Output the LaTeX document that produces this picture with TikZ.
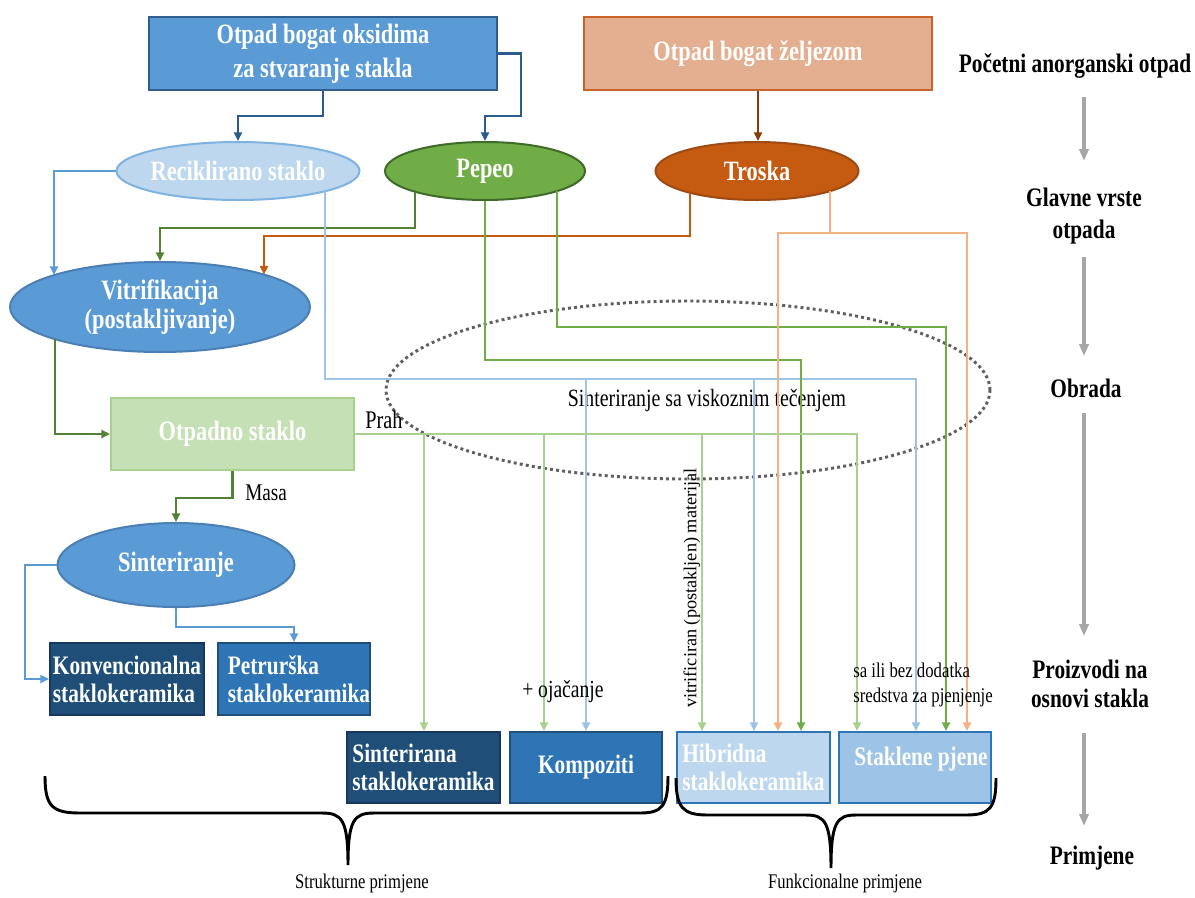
\documentclass[tikz,border=0pt]{standalone}
\usepackage{fontspec}
\setmainfont[FakeStretch=0.8]{Liberation Serif}
\newfontfamily\vfont{Liberation Serif}
\usetikzlibrary{shapes.geometric,arrows.meta,calc}
\definecolor{cA}{HTML}{5B9BD5}
\definecolor{cAb}{HTML}{2F5E8E}
\definecolor{cVb}{HTML}{4A7FB5}
\definecolor{cDk}{HTML}{2B5C8F}
\definecolor{cRec}{HTML}{BDD7EE}
\definecolor{cRecb}{HTML}{7EB2E0}
\definecolor{cPep}{HTML}{70AD47}
\definecolor{cPepb}{HTML}{3E6B27}
\definecolor{cTro}{HTML}{C55A11}
\definecolor{cTrob}{HTML}{9E4A12}
\definecolor{cB}{HTML}{E4AF90}
\definecolor{cBb}{HTML}{C8642A}
\definecolor{cBrown}{HTML}{843C0C}
\definecolor{cDg}{HTML}{548235}
\definecolor{cLg}{HTML}{A9D18E}
\definecolor{cOt}{HTML}{C5E0B4}
\definecolor{cLb}{HTML}{9DC3E6}
\definecolor{cLo}{HTML}{F4B183}
\definecolor{cNavy}{HTML}{1F4E79}
\definecolor{cNavyb}{HTML}{17375E}
\definecolor{cMid}{HTML}{2E75B6}
\definecolor{cGray}{HTML}{A6A6A6}
\definecolor{cDot}{HTML}{5F5F5F}
\begin{document}
\begin{tikzpicture}[x=0.75pt,y=-0.75pt,
  ln/.style={line width=2.2pt},
  arr/.style={-{Triangle[length=6.5pt,width=6pt]}},
  grayarr/.style={line width=2.4pt,draw=cGray,-{Triangle[length=9pt,width=7pt]}},
  ntxt/.style={text=white,font=\fontsize{21}{22}\selectfont\bfseries,align=center},
  btxt/.style={text=white,font=\fontsize{20}{21}\selectfont\bfseries,align=left},
  lab/.style={text=black,font=\fontsize{20}{24}\selectfont\bfseries,align=center,inner sep=0pt},
  ell/.style={shape=ellipse,inner sep=0pt,line width=1.5pt},
  box/.style={rectangle,inner sep=0pt,line width=1.5pt},
  brace/.style={line width=2.2pt,draw=black}
]
\useasboundingbox (0,0) rectangle (1195,897);
\fill[white] (0,0) rectangle (1195,897);

% dotted ellipse
\draw[cDot,line width=2.2pt,dash pattern=on 2.2pt off 2.4pt] (688,390) ellipse [x radius=226.5pt, y radius=66.75pt];
\node[font=\fontsize{18.6}{20}\selectfont,inner sep=0pt] (sv) at (707,401) {Sinteriranje sa viskoznim tečenjem};

% top boxes
\node[box,fill=cA,draw=cAb,minimum width=261pt,minimum height=54.75pt,
  text=white,font=\fontsize{21}{25.5}\selectfont\bfseries,align=center] (A) at (323,53.5) {Otpad bogat oksidima\\za stvaranje stakla};
\node[box,fill=cB,draw=cBb,minimum width=261pt,minimum height=54.75pt,
  text=white,font=\fontsize{21}{25}\selectfont\bfseries] (B) at (758,53.5) {Otpad bogat željezom};

% ellipses
\node[ell,fill=cRec,draw=cRecb,minimum width=182.25pt,minimum height=43.5pt] (R) at (238,171) {};
\node[ntxt,inner sep=0pt] (Rt) at (R.center) {Reciklirano staklo};
\node[ell,fill=cPep,draw=cPepb,minimum width=150pt,minimum height=43.5pt,ntxt] (P) at (485,171) {Pepeo};
\node[ell,fill=cTro,draw=cTrob,minimum width=152.25pt,minimum height=43.5pt,ntxt] (T) at (757,171) {Troska};
\node[ell,fill=cA,draw=cVb,minimum width=225pt,minimum height=67.5pt,ntxt] (V) at (160,307) {Vitrifikacija\\(postakljivanje)};
\node[box,fill=cOt,draw=cLg,minimum width=182.25pt,minimum height=54pt,ntxt] (O) at (232.5,434) {Otpadno staklo};
\node[ell,fill=cA,draw=cVb,minimum width=177.75pt,minimum height=63pt,ntxt] (S) at (176,565) {Sinteriranje};

% product boxes
\node[box,fill=cNavy,draw=cNavyb,minimum width=115.5pt,minimum height=54pt,btxt] (K) at (127,679) {Konvencionalna\\staklokeramika};
\node[box,fill=cMid,draw=cNavy,minimum width=114pt,minimum height=54pt] (Pt) at (294,679) {};
\node[btxt,inner sep=0pt] (Ptt) at ($(Pt.center)+(5,0)$) {Petrurška\\staklokeramika};
\node[box,fill=cNavy,draw=cNavyb,minimum width=114.75pt,minimum height=53.25pt,btxt] (Si) at (423.5,767.5) {Sinterirana\\staklokeramika};
\node[box,fill=cMid,draw=cNavy,minimum width=114pt,minimum height=53.25pt,btxt] (Ko) at (586,767.5) {Kompoziti};
\node[box,fill=cRec,draw=cMid,minimum width=114.75pt,minimum height=53.25pt,btxt] (H) at (753.5,767.5) {Hibridna\\staklokeramika};
\node[box,fill=cLb,draw=cMid,minimum width=114pt,minimum height=53.25pt] (Sp) at (915,767.5) {};
\node[btxt,inner sep=0pt] (Spt) at (921,759) {Staklene pjene};

% right column labels
\node[lab] (L1) at (1075,66) {Početni anorganski otpad};
\node[lab] (L2) at (1084,216) {Glavne vrste\\otpada};
\node[lab] (L3) at (1086,388) {Obrada};
\node[lab,font=\fontsize{20}{21.5}\selectfont\bfseries] (L4) at (1090,684) {Proizvodi na\\osnovi stakla};
\node[lab] (L5) at (1092,858) {Primjene};
\coordinate (g1) at (1084,97);  \coordinate (g2) at (1084,161);
\coordinate (g3) at (1084,257); \coordinate (g4) at (1084,356);
\coordinate (g5) at (1084,413); \coordinate (g6) at (1084,636);
\coordinate (g7) at (1084,733); \coordinate (g8) at (1084,826);
\draw[grayarr] (g1) -- (g2);
\draw[grayarr] (g3) -- (g4);
\draw[grayarr] (g5) -- (g6);
\draw[grayarr] (g7) -- (g8);

% connectors from top
\draw[ln,cDk,arr] (A.south -| 323,0) -- (323,116) -| (R.north);
\draw[ln,cDk,arr] (A.east) -- (521,53.5) |- (485,116) -- (P.north);
\draw[ln,cBrown,arr] (B.south) -- (T.north -| B.south);

% into vitrifikacija
\draw[ln,cA,arr] (R.west) -- (54,171) -- ($(V.center)+(-106,-32)$);
\draw[ln,cDg,arr] ($(P.center)+(-70,21)$) -- (415,228) -| (V.north);
\draw[ln,cTro,arr] ($(T.center)+(-67,22)$) -- (690,236) -| ($(V.center)+(104,-32.4)$);

% vitrifikacija -> otpadno -> sinteriranje
\draw[ln,cDg,arr] ($(V.center)+(-105,32)$) |- (O.west);
\draw[ln,cDg,arr] (O.south) -- ($(O.south)+(0,27)$) -| (S.north);
\draw[ln,cA,arr] (S.west) -- (25,565) |- (K.west);
\draw[ln,cA,arr] (S.south) -- (176,627) -| (Pt.north);

% light blue from reciklirano
\draw[ln,cLb,arr] ($(R.center)+(87,20)$) |- (916,379) -- (Sp.north -| 916,0);
\draw[ln,cLb,arr] (586,379) -- (Ko.north -| 586,0);
\draw[ln,cLb,arr] (754,379) -- (H.north -| 754,0);

% green from pepeo
\draw[ln,cPep,arr] (P.south) |- (801,360) -- (H.north -| 801,0);
\draw[ln,cPep,arr] ($(P.center)+(72,20)$) |- (946,327) -- (Sp.north -| 946,0);

% light orange from troska
\draw[ln,cLo,arr] ($(T.center)+(73,20)$) -- (830,233) -| (Sp.north -| 967,0);
\draw[ln,cLo,arr] (830,233) -| (H.north -| 778,0);

% light green from otpadno staklo (prah)
\draw[ln,cLg,arr] (O.east) -| (Sp.north -| 857,0);
\draw[ln,cLg,arr] (424,434) -- (Si.north -| 424,0);
\draw[ln,cLg,arr] (544,434) -- (Ko.north -| 544,0);
\draw[ln,cLg,arr] (702,434) -- (H.north -| 702,0);

% small labels
\node[font=\fontsize{19}{20}\selectfont,anchor=west,inner sep=0pt] (prah) at (365,420) {Prah};
\node[font=\fontsize{18}{20}\selectfont,anchor=west,inner sep=0pt] (masa) at (245,493) {Masa};
\node[font=\fontsize{18.4}{20}\selectfont,anchor=west,inner sep=0pt] (oj) at (522,692) {+ ojačanje};
\node[font=\fontsize{15.7}{18.75}\selectfont,anchor=west,align=left,inner sep=0pt] (sab) at (853,685) {sa ili bez dodatka\\sredstva za pjenjenje};
\node[font=\fontsize{13.7}{15}\vfont,rotate=90,inner sep=0pt] (vit) at (692,588) {vitrificiran (postakljen) materijal};

% braces
\draw[brace] (45,776) .. controls (45,806) and (52,813) .. (80,813) -- (322,813)
  .. controls (342,813) and (348,820) .. (348,865)
  .. controls (348,820) and (354,813) .. (374,813) -- (640,813)
  .. controls (662,813) and (668,806) .. (668,776);
\draw[brace] (676,778) .. controls (676,808) and (683,815) .. (708,815) -- (806,815)
  .. controls (825,815) and (831,822) .. (831,868)
  .. controls (831,822) and (837,815) .. (856,815) -- (966,815)
  .. controls (990,815) and (996,808) .. (996,778);
\node[font=\fontsize{15.6}{18}\selectfont,inner sep=0pt] (str) at (362,883) {Strukturne primjene};
\node[font=\fontsize{15.6}{18}\selectfont,inner sep=0pt] (fun) at (845,883) {Funkcionalne primjene};
\end{tikzpicture}
\end{document}
